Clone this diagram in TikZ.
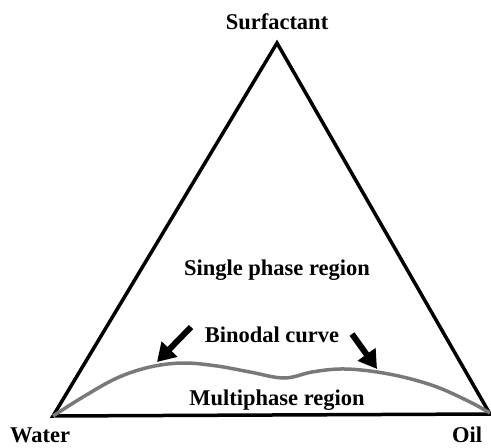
\documentclass[tikz,border=0pt]{standalone}
\usepackage{fontspec}
\setmainfont{Liberation Serif}
\usetikzlibrary{arrows.meta}
\begin{document}
\begin{tikzpicture}[x=1bp,y=-1bp,inner sep=0pt, >={Triangle[length=18bp,width=21bp]},
  lbl/.style={anchor=base,font=\fontsize{22.5bp}{26bp}\selectfont\bfseries}]
\useasboundingbox (0,0) rectangle (491,448);
\coordinate (water) at (53,416);
\coordinate (oil) at (490,414);
\coordinate (surf) at (277,43);
\draw[line width=3.5bp, line join=miter] (water) -- (surf) -- (oil) -- cycle;
\draw[line width=3.5bp, gray!95!black] plot[smooth, tension=0.6] coordinates {(53,416) (83,397) (117,378) (150,367) (183,363) (217,366) (250,372) (284,378) (312,372) (340,369) (370,371) (403,377) (437,387) (470,402) (490,413)};
\node (t) at (277,30) [lbl] {Surfactant};
\node (sp) at (277,275) [lbl] {Single phase region};
\node (bc) at (272,342) [lbl] {Binodal curve};
\node (mp) at (277,405) [lbl] {Multiphase region};
\node (w) at (40,442) [lbl, text depth=0pt] {Water};
\node (o) at (467,442) [lbl, text depth=0pt] {Oil};
\coordinate (la) at (191,327);
\coordinate (lb) at (157,362);
\coordinate (ra) at (352,334);
\coordinate (rb) at (377,369);
\draw[->, line width=6bp] (la) -- (lb);
\draw[->, line width=6bp] (ra) -- (rb);
\end{tikzpicture}
\end{document}
